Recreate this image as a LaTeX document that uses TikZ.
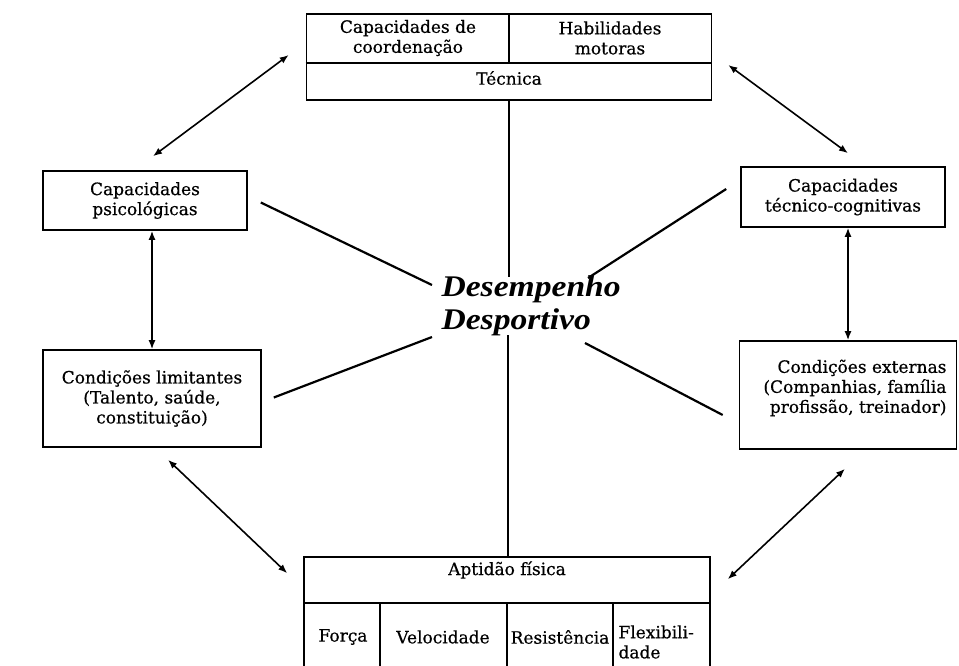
\documentclass[tikz,border=0pt]{standalone}
\usepackage{fontspec}
\usetikzlibrary{arrows.meta}
\setmainfont[FakeBold=0.6]{DejaVu Serif}
\newfontfamily\titlefont[FakeStretch=1.12]{Liberation Serif}
\tikzstyle{box}=[draw, line width=1.6pt, inner sep=0pt, align=center, font=\fontsize{17}{20}\selectfont]
\tikzset{txt/.style={align=center, font=\fontsize{17}{20}\selectfont}}
\tikzset{spoke/.style={line width=2.2pt}}
\tikzset{link/.style={{Latex[length=9pt,width=7pt]}-{Latex[length=9pt,width=7pt]}, line width=1.6pt}}

\begin{document}
\begin{tikzpicture}[x=1pt,y=-1pt]
  \useasboundingbox (0,0) rectangle (959,665);
  %% Technique box on top
  \draw (509,57) node[box,minimum width=405pt,minimum height=86pt] (tec) {};
  \draw[line width=1.6pt] (tec.west |- 0,63) -- (tec.east |- 0,63);
  \draw[line width=1.6pt] (509,63) -- (tec.north);
  \draw (408,38) node[txt] (coord) {Capacidades de\\coordenação};
  \draw (610,38) node[txt] (motor) {Habilidades\\motoras};
  \draw (509,78) node[txt] (tecn) {Técnica};

  %% Side boxes
  \draw (145,200.5) node[box,minimum width=204pt,minimum height=59pt] (psi) {Capacidades\\psicológicas};
  \draw (152,398.5) node[box,minimum width=218pt,minimum height=97pt] (lim) {Condições limitantes\\(Talento, saúde,\\constituição)};
  \draw (843,197) node[box,minimum width=204pt,minimum height=60pt] (cog) {Capacidades\\técnico-cognitivas};
  \draw (848,395) node[box,minimum width=217pt,minimum height=108pt] (ext) {};
  \draw (950,388) node[txt,anchor=east,align=right] (extt) {Condições externas\\(Companhias, família\\profissão, treinador)};

  %% Physical fitness box at the bottom
  \draw (507,618.5) node[box,minimum width=406pt,minimum height=123pt] (apt) {};
  \draw[line width=1.6pt] (apt.west |- 0,603) -- (apt.east |- 0,603);
  \draw[line width=1.6pt] (380,603) -- (380,685);
  \draw[line width=1.6pt] (507,603) -- (507,685);
  \draw[line width=1.6pt] (613,603) -- (613,685);
  \draw (507,570) node[txt] (aptt) {Aptidão física};
  \draw (343,637) node[txt] (forca) {Força};
  \draw (443,637) node[txt] (veloc) {Velocidade};
  \draw (560,637) node[txt] (resist) {Resistência};
  \draw (615,642) node[txt,anchor=west,align=left] (flex) {Flexibili-\\dade};

  %% Centre
  \draw (438,306) node[anchor=west,align=left,font=\titlefont\fontsize{30}{33}\selectfont\bfseries\itshape] (perf) {Desempenho\\Desportivo};
  \coordinate (pA) at (432,285);
  \coordinate (pB) at (432,337);
  \coordinate (pC) at (588,278);
  \coordinate (pD) at (585,343);
  \coordinate (pE) at (509,277);
  \coordinate (pF) at (508,335);

  \draw[spoke] ([shift={(13,2)}]psi.east) -- (pA);
  \draw[spoke] ([shift={(12,-1)}]lim.east) -- (pB);
  \draw[spoke] ([shift={(-14,-8)}]cog.west) -- (pC);
  \draw[spoke] ([shift={(-16,20)}]ext.west) -- (pD);
  \draw[spoke] (tec) -- (pE);
  \draw[spoke] (pF) -- (pF |- apt.north);

  %% Links between the boxes
  \draw[link] ([shift={(8,-14)}]psi.north) -- ([shift={(-17,-2)}]tec.west);
  \draw[link] ([shift={(16,8)}]tec.east) -- ([shift={(5,-13)}]cog.north);
  \draw[link] ([shift={(16,12)}]lim.south) -- ([shift={(-16,17)}]apt.north west);
  \draw[link] ([shift={(-3,19)}]ext.south) -- ([shift={(17,23)}]apt.north east);
  \draw[link] (lim.north) -- (lim.north |- psi.south);
  \draw[link] (ext.north) -- (ext.north |- cog.south);
\end{tikzpicture}
\end{document}
